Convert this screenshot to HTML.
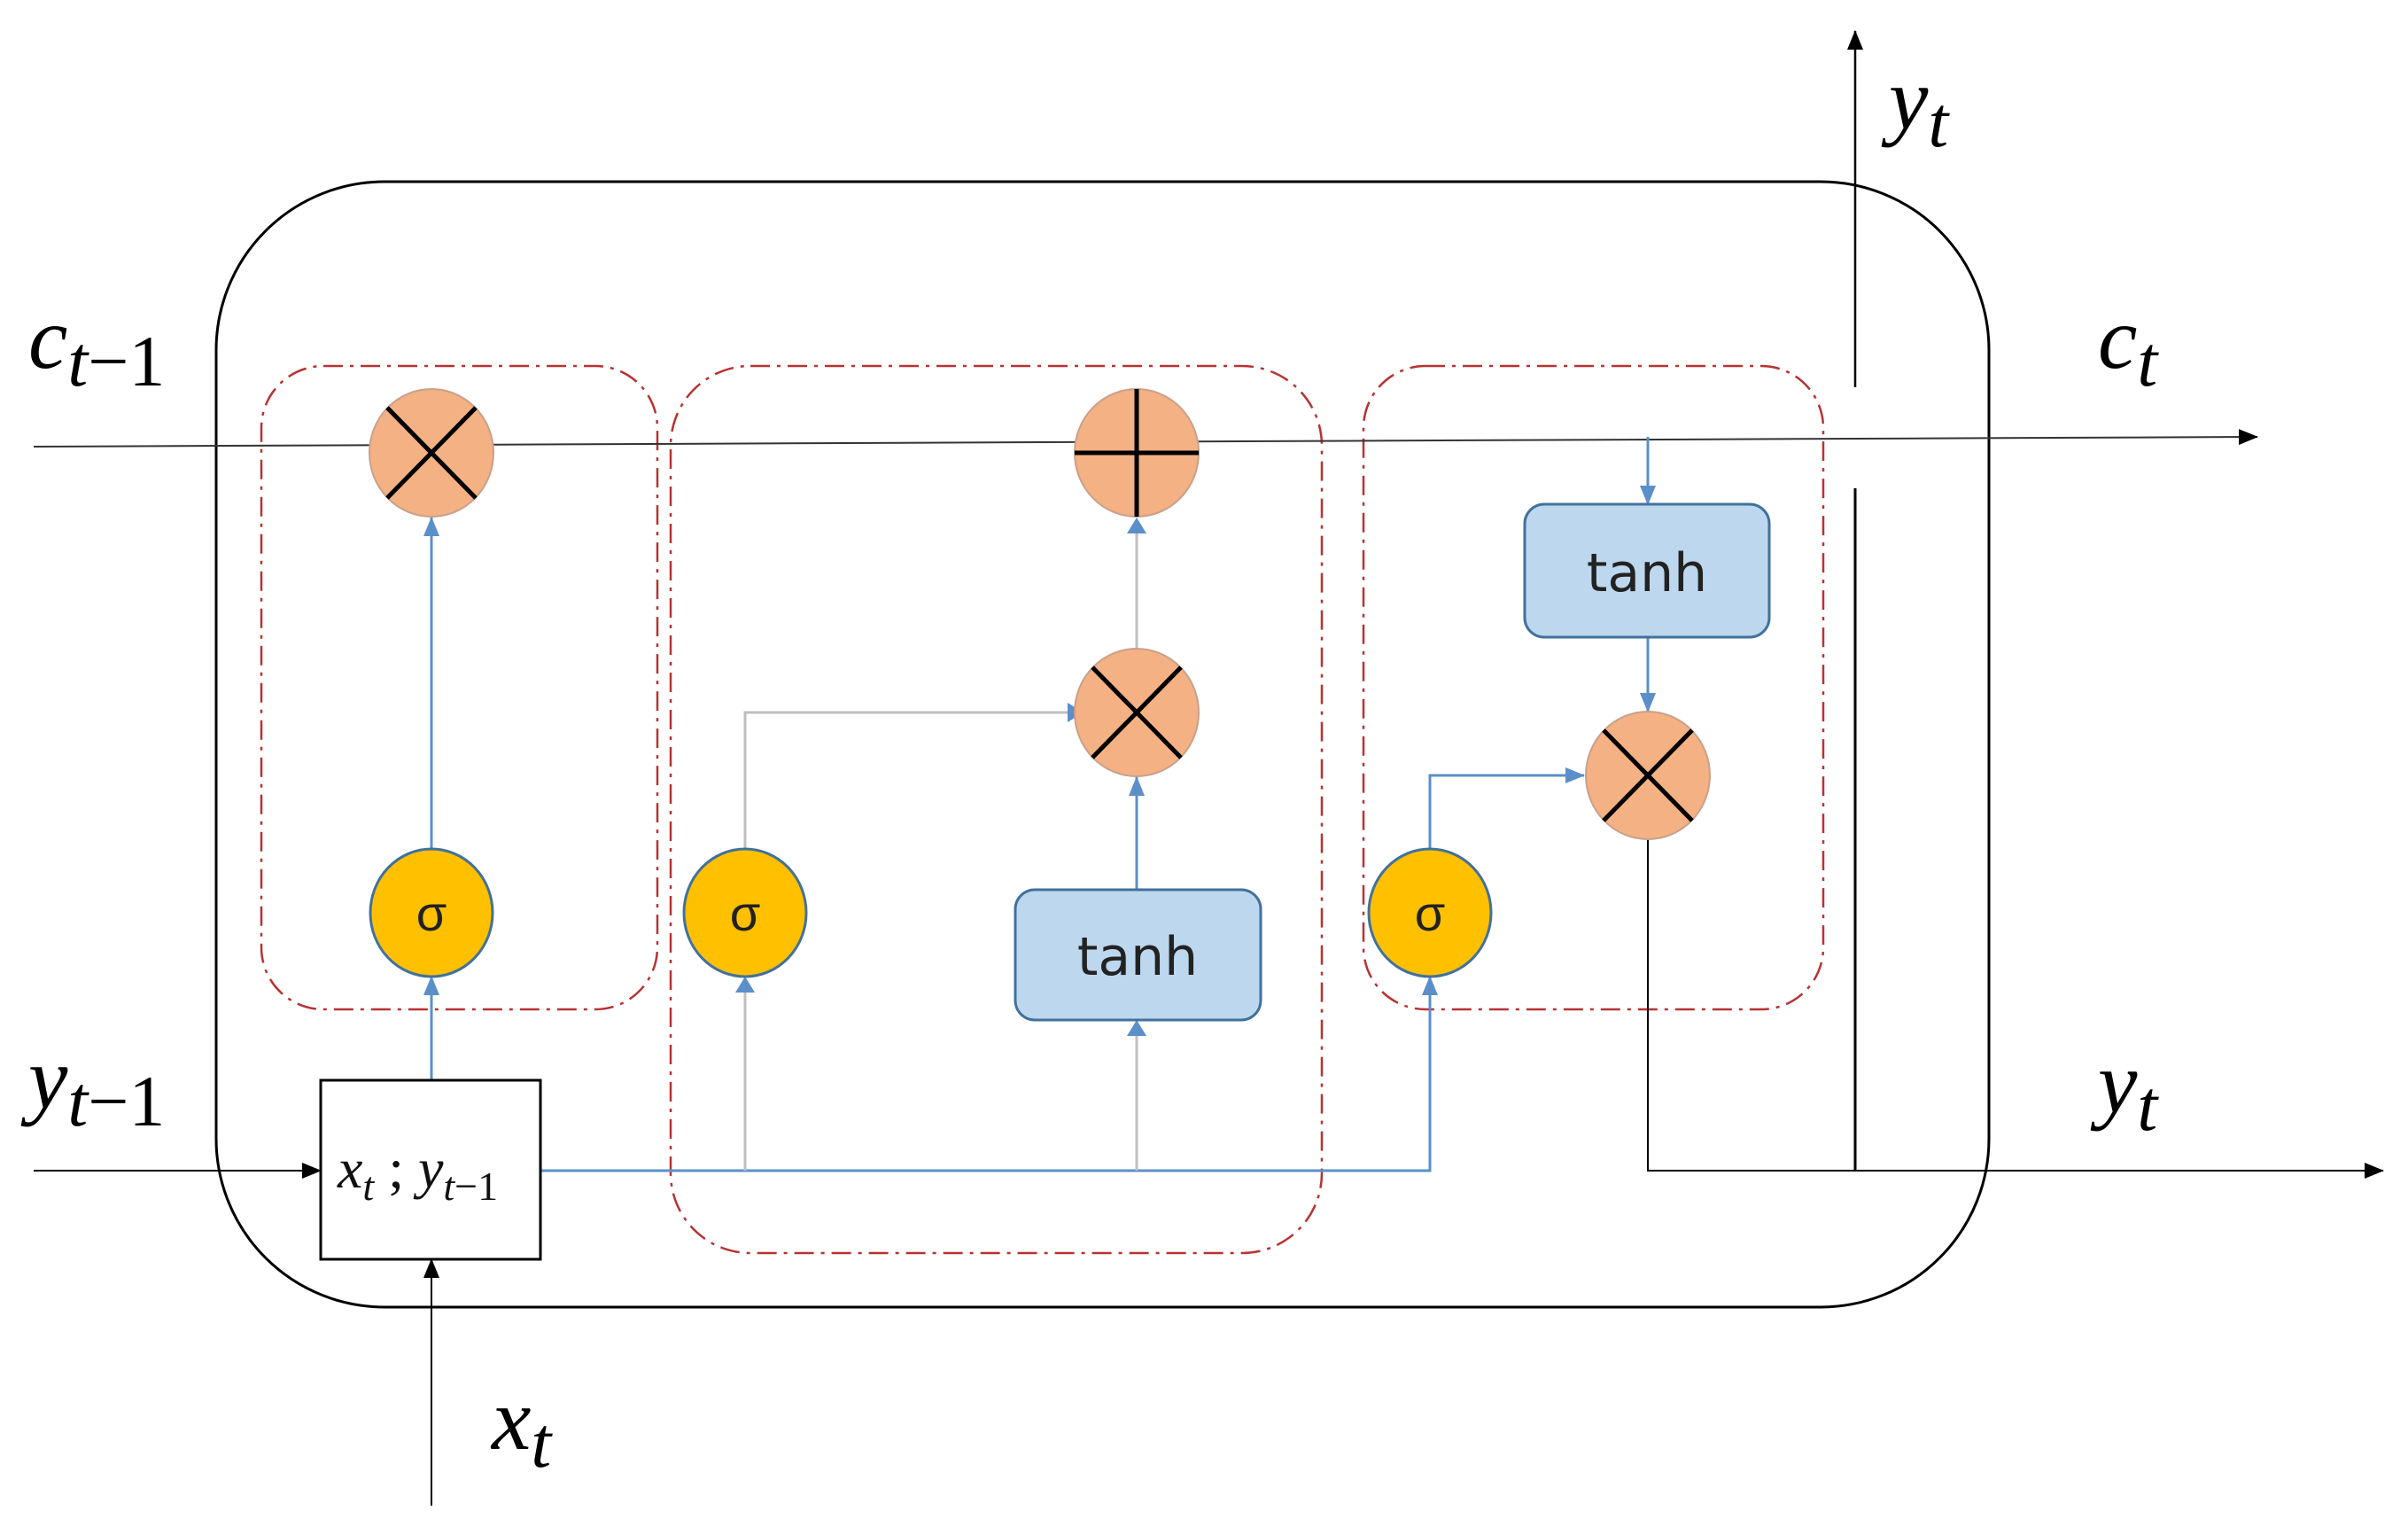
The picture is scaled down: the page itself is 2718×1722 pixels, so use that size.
<!DOCTYPE html>
<html><head><meta charset="utf-8"><style>html,body{margin:0;padding:0;background:#fff}svg{display:block}</style></head>
<body>
<svg width="2718" height="1722" viewBox="0 0 2718 1722" xmlns="http://www.w3.org/2000/svg">
<defs>
<marker id="ak" markerWidth="22" markerHeight="18" refX="21" refY="9" orient="auto" markerUnits="userSpaceOnUse"><path d="M0,0 L22,9 L0,18 z" fill="#000"/></marker>
<marker id="abl" markerWidth="22" markerHeight="18" refX="21" refY="9" orient="auto" markerUnits="userSpaceOnUse"><path d="M0,0 L22,9 L0,18 z" fill="#5B8FC9"/></marker>
</defs>
<rect x="244" y="205" width="2001" height="1270" rx="190" fill="none" stroke="#000" stroke-width="3"/>
<g fill="none" stroke="#B83232" stroke-width="2.5" stroke-dasharray="22,8,4,8">
<rect x="295" y="413" width="447" height="726" rx="70"/>
<rect x="757" y="413" width="735" height="1001" rx="90"/>
<rect x="1539" y="413" width="519" height="726" rx="70"/>
</g>
<line x1="38" y1="504" x2="2548" y2="493" stroke="#333" stroke-width="2" marker-end="url(#ak)"/>
<line x1="2094" y1="437" x2="2094" y2="35" stroke="#000" stroke-width="2.5" marker-end="url(#ak)"/>
<line x1="2094" y1="551" x2="2094" y2="1321" stroke="#000" stroke-width="3"/>
<line x1="38" y1="1321" x2="362" y2="1321" stroke="#000" stroke-width="2" marker-end="url(#ak)"/>
<line x1="487" y1="1699" x2="487" y2="1421" stroke="#000" stroke-width="2" marker-end="url(#ak)"/>
<polyline points="610,1321 1614,1321 1614,1102" fill="none" stroke="#5B8FC9" stroke-width="3" marker-end="url(#abl)"/>
<g stroke="#BFBFBF" stroke-width="3" fill="none">
<polyline points="841,1321 841,1110"/>
<polyline points="1283,1321 1283,1165"/>
<polyline points="841,958 841,804 1205,804"/>
<line x1="1283" y1="732" x2="1283" y2="595"/>
</g>
<g stroke="#5B8FC9" stroke-width="3" fill="none">
<line x1="487" y1="1219" x2="487" y2="1102" marker-end="url(#abl)"/>
<line x1="487" y1="958" x2="487" y2="584" marker-end="url(#abl)"/>
<line x1="1283" y1="1004" x2="1283" y2="877" marker-end="url(#abl)"/>
<line x1="1860" y1="719" x2="1860" y2="803" marker-end="url(#abl)"/>
<line x1="1860" y1="493" x2="1860" y2="569" marker-end="url(#abl)"/>
<polyline points="1614,958 1614,875 1788,875" marker-end="url(#abl)"/>
</g>
<path d="M841,1102 l-11,18 h22 z M1283,1151 l-11,18 h22 z M1205,793 l18,11 l-18,11 z M1283,584 l-11,18 h22 z" fill="#5B8FC9"/>
<polyline points="1860,947 1860,1321 2690,1321" fill="none" stroke="#000" stroke-width="2" marker-end="url(#ak)"/>
<g stroke="#C9A08A" stroke-width="2" fill="#F4B183">
<ellipse cx="487" cy="511" rx="70" ry="72"/>
<ellipse cx="1283" cy="511" rx="70" ry="72"/>
<ellipse cx="1283" cy="804" rx="70" ry="72"/>
<ellipse cx="1860" cy="875" rx="70" ry="72"/>
</g>
<g stroke="#000" stroke-width="5">
<path d="M437,460 L537,562 M537,460 L437,562"/>
<path d="M1233,753 L1333,855 M1333,753 L1233,855"/>
<path d="M1810,824 L1910,926 M1910,824 L1810,926"/>
<path d="M1213,511 L1353,511 M1283,439 L1283,583"/>
</g>
<g stroke="#41719C" stroke-width="3" fill="#FFC000">
<ellipse cx="487" cy="1030" rx="69" ry="72"/>
<ellipse cx="841" cy="1030" rx="69" ry="72"/>
<ellipse cx="1614" cy="1030" rx="69" ry="72"/>
</g>
<g font-family="Liberation Sans, DejaVu Sans, sans-serif" font-size="56" text-anchor="middle" fill="#222">
<text x="487" y="1050">σ</text><text x="841" y="1050">σ</text><text x="1614" y="1050">σ</text>
</g>
<g stroke="#41719C" stroke-width="3" fill="#BDD7EE">
<rect x="1146" y="1004" width="277" height="147" rx="22"/>
<rect x="1721" y="569" width="276" height="150" rx="22"/>
</g>
<g font-family="DejaVu Sans, Liberation Sans, sans-serif" font-size="60" text-anchor="middle" fill="#222">
<text x="1284" y="1100">tanh</text><text x="1859" y="667">tanh</text>
</g>
<rect x="362" y="1219" width="248" height="202" fill="#fff" stroke="#000" stroke-width="3"/>
<text x="381" y="1340" font-family="Liberation Serif, serif" font-size="64" fill="#111"><tspan font-style="italic">x</tspan><tspan font-size="46" dy="14" font-style="italic">t</tspan><tspan dy="-14"> ; </tspan><tspan font-style="italic">y</tspan><tspan font-size="46" dy="14"><tspan font-style="italic">t</tspan>−1</tspan></text>
<g font-family="Liberation Serif, serif" fill="#000">
<text x="32" y="415" font-size="100"><tspan font-style="italic">c</tspan><tspan font-size="82" dy="20"><tspan font-style="italic">t</tspan>−1</tspan></text>
<text x="32" y="1250" font-size="100"><tspan font-style="italic">y</tspan><tspan font-size="82" dy="20"><tspan font-style="italic">t</tspan>−1</tspan></text>
<text x="555" y="1635" font-size="100"><tspan font-style="italic">x</tspan><tspan font-size="82" dy="20" font-style="italic">t</tspan></text>
<text x="2132" y="145" font-size="100"><tspan font-style="italic">y</tspan><tspan font-size="82" dy="20" font-style="italic">t</tspan></text>
<text x="2368" y="415" font-size="100"><tspan font-style="italic">c</tspan><tspan font-size="82" dy="20" font-style="italic">t</tspan></text>
<text x="2368" y="1255" font-size="100"><tspan font-style="italic">y</tspan><tspan font-size="82" dy="20" font-style="italic">t</tspan></text>
</g>
</svg>
</body></html>
